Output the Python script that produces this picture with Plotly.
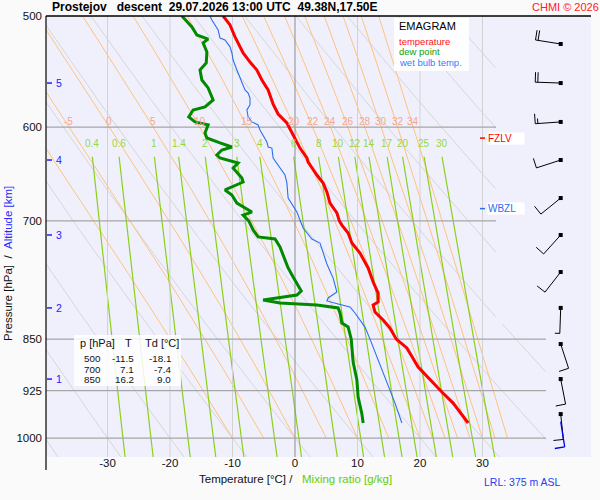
import numpy as np
import plotly.graph_objects as go

# sounding profiles (pressure hPa, temperature degC)
temp_p = [500, 507.4, 517.5, 522.6, 531.3, 539.3, 546.4, 555.4, 564.6, 577.8, 587.3, 596.0, 610.9, 621.1,
          631.3, 635.5, 649.2, 657.7, 667.5, 679.8, 691.0, 700, 704.8, 714.0, 725.9, 738.0, 756.2, 773.9,
          788.0, 799.7, 803.7, 813.0, 823.7, 834.6, 850, 862.4, 889.9, 909.0, 927.1, 944.1, 975.5]
temp_t = [-11.5, -10.4, -9.6, -9.1, -8.3, -7.2, -6.1, -5.3, -4.3, -3.5, -2.7, -1.3, 0.0, 0.8,
          1.9, 2.1, 3.5, 4.5, 5.1, 5.6, 6.7, 7.1, 7.5, 8.5, 9.1, 10.4, 11.7, 12.5,
          13.3, 13.3, 12.5, 12.8, 14.1, 15.2, 16.2, 17.9, 19.7, 21.6, 23.5, 25.3, 27.7]

dew_p = [500, 509.1, 515.8, 519.3, 522.6, 530.4, 540.1, 546.4, 555.4, 562.7, 573.9, 580.5, 583.4, 590.1,
         595.0, 597.9, 605.9, 610.9, 615.9, 620.0, 623.1, 628.2, 631.3, 634.4, 636.5, 641.8, 652.4, 656.7,
         662.1, 665.3, 670.8, 679.8, 689.9, 693.4, 700, 710.5, 718.7, 721.1, 730.7, 746.4, 756.2, 767.6,
         785.4, 790.6, 797.1, 801.0, 803.7, 807.6, 814.3, 827.8, 833.3, 850, 865.3, 882.6, 909.0, 934.8,
         960.9, 975.5]
dew_t = [-18.1, -16.5, -15.7, -13.9, -14.7, -14.1, -14.2, -15.2, -14.9, -13.9, -13.1, -14.4, -16.3, -17.0,
         -16.0, -13.9, -14.4, -14.1, -12.0, -10.1, -11.7, -12.5, -12.0, -10.4, -9.1, -9.9, -8.5, -8.3,
         -10.1, -11.2, -10.1, -9.3, -6.9, -8.3, -7.4, -6.7, -5.9, -3.2, -2.4, -1.6, -1.1, -0.3,
         1.0, 0.3, -5.1, -2.4, 3.5, 6.9, 7.2, 7.5, 8.5, 9.0, 9.1, 9.3, 9.9, 10.1,
         10.7, 10.9]

wb_p = [500, 503.3, 511.6, 518.4, 520.1, 522.6, 526.0, 531.3, 537.5, 546.4, 552.7, 564.6, 567.4, 572.0,
        578.6, 583.4, 590.1, 595.0, 597.9, 602.9, 614.9, 620.0, 621.1, 631.3, 649.2, 657.7, 674.2, 689.9,
        708.2, 721.1, 725.9, 751.3, 768.9, 786.7, 794.4, 798.4, 802.4, 806.3, 814.3, 833.3, 850, 879.7,
        927.1, 944.1, 975.5]
wb_t = [-13.6, -13.3, -12.3, -12.0, -11.2, -10.9, -10.4, -10.1, -9.9, -9.3, -8.8, -8.0, -7.5, -7.2,
        -7.2, -7.7, -7.5, -6.9, -5.9, -5.6, -4.5, -4.3, -3.7, -3.5, -1.6, -1.3, -1.1, 0.3,
        1.3, 2.7, 4.0, 5.1, 6.1, 6.7, 5.3, 5.1, 6.9, 8.8, 9.6, 11.2, 12.0, 13.3,
        15.2, 16.0, 17.1]

table_p = [500, 700, 850]
table_t = [-11.5, 7.1, 16.2]
table_td = [-18.1, -7.4, 9.0]

alt_km = [1, 2, 3, 4, 5]
alt_p = [907.6, 807.5, 716.4, 633.4, 558.2]

wind_p = [523.5, 558.2, 595.0, 633.4, 674.2, 716.4, 761.3, 807.5, 856.9, 907.6, 961.3]
wind_dir = [279, 272, 266, 252, 231, 222, 218, 182, 162, 169, 174]
wind_kt = [20, 20, 15, 10, 10, 10, 10, 5, 10, 10, 10]
sfc_p, sfc_dir, sfc_kt = 973.5, 171, 10

fzlv_p = 611
wbzl_p = 686
lrl_m = 375

# diagram background lines
theta_dry = list(range(-40, 100, 10))
theta_w = [-10, -5, 0, 5, 10, 15, 20, 22, 24, 26, 28, 30, 32, 34]
mix_ratio = [0.4, 0.6, 1, 1.4, 2, 3, 4, 6, 8, 10, 12, 14, 17, 20, 25, 30]
isotherms = [-30, -20, -10, 0, 10, 20, 30]
isobars = [600, 700, 850, 925, 1000]

FONT = "Liberation Sans, Arial, sans-serif"
X_MIN, X_MAX = -39.84, 47.36
P_TOP, P_BOT = 500, 1031.5
ML, MR, MT, MB = 46, 9, 16, 43
PW, PH = 600 - ML - MR, 500 - MT - MB
PX_DEG = PW / (X_MAX - X_MIN)
PX_DEC = PH / (np.log10(P_BOT) - np.log10(P_TOP))


def xp(px):
    return (px - ML) / PW


def yp(py):
    return (MT + PH - py) / PH


def px_t(px):
    return X_MIN + (px - ML) / PX_DEG


def es(tc):
    return 6.112 * np.exp(17.67 * tc / (tc + 243.5))


def mix_t(w, p):
    e = w * p / (622.0 + w)
    l = np.log(e / 6.112)
    return 243.5 * l / (17.67 - l)


def moist_curve(tw, p):
    Rd, cp, Lv, eps = 287.04, 1005.7, 2.501e6, 0.622

    def f(pp, tk):
        e = es(tk - 273.15)
        rs = eps * e / (pp - e)
        return (Rd * tk + Lv * rs) / (cp + Lv * Lv * rs * eps / (Rd * tk * tk)) / pp

    out = [tw + 273.15]
    for i in range(1, len(p)):
        h = p[i] - p[i - 1]
        p0, tk = p[i - 1], out[-1]
        k1 = f(p0, tk)
        k2 = f(p0 + h / 2, tk + h / 2 * k1)
        k3 = f(p0 + h / 2, tk + h / 2 * k2)
        k4 = f(p0 + h, tk + h * k3)
        out.append(tk + h * (k1 + 2 * k2 + 2 * k3 + k4) / 6)
    return np.array(out) - 273.15


fig = go.Figure()


def add_line(x, y, color, width=1.0):
    fig.add_trace(go.Scatter(x=x, y=y, mode="lines", line=dict(color=color, width=width),
                             hoverinfo="skip", showlegend=False))


# dry adiabats
p_dry = np.geomspace(P_TOP, P_BOT, 300)
for th in theta_dry:
    t = (th + 273.15) * (p_dry / 1000.0) ** 0.2857 - 273.15
    lim = np.where(p_dry < 828, 32.2, 40.2)
    t = np.where(t <= lim, t, np.nan)
    add_line(t, p_dry, "#d6d6d6", 1)

# pseudo adiabats
p_moist = np.linspace(1000, 500, 251)
moist_lab = []
for tw in theta_w:
    t = moist_curve(tw, p_moist)
    add_line(t, p_moist, "#ffc27e", 1)
    t600 = float(np.interp(600, p_moist[::-1], t[::-1]))
    if t600 > X_MIN + 2:
        moist_lab.append((tw, t600))

# mixing ratio lines
p_mix = np.geomspace(630, P_BOT, 80)
for w in mix_ratio:
    add_line(mix_t(w, p_mix), p_mix, "#8ad018", 1.2)

# isotherms and isobars
for t in isotherms:
    add_line([t, t], [P_TOP, P_BOT], "#8c8c8c" if t == 0 else "#d2d2d2", 1)
for p in isobars:
    add_line([X_MIN, px_t(496 if p < 800 else 546)], [p, p], "#a6a6a6", 1.2)

# profiles
add_line(wb_t, wb_p, "#2a6ef0", 1.1)
add_line(dew_t, dew_p, "#008a00", 3)
add_line(temp_t, temp_p, "#ff0000", 3)

# freezing / wet bulb zero levels
add_line([px_t(480), px_t(485)], [fzlv_p, fzlv_p], "#ff0000", 1.5)
add_line([px_t(480), px_t(485)], [wbzl_p, wbzl_p], "#2a6ef0", 1.5)

# altitude ticks
for km, p in zip(alt_km, alt_p):
    add_line([px_t(47), px_t(52)], [p, p], "#2020ff", 1.5)


# wind barbs
def barb(p0, wdir, kt):
    t0 = px_t(560.7)
    lp0 = np.log10(p0)
    a = np.radians(wdir)
    dx, dy = np.sin(a), -np.cos(a)
    fx, fy = -dy, dx

    def pt(sx, sy):
        return t0 + sx / PX_DEG, 10 ** (lp0 + sy / PX_DEC)

    xs, ys = [], []
    for sx, sy in [(0, 0), (25.5 * dx, 25.5 * dy)]:
        x, y = pt(sx, sy)
        xs.append(x)
        ys.append(y)
    xs.append(None)
    ys.append(None)
    feathers = [10] * (kt // 10) + ([5] if kt % 10 >= 5 else [])
    for i, ln in enumerate(feathers):
        s = 25.5 - i * 2.6
        for sx, sy in [(s * dx, s * dy), (s * dx + ln * fx, s * dy + ln * fy)]:
            x, y = pt(sx, sy)
            xs.append(x)
            ys.append(y)
        xs.append(None)
        ys.append(None)
    return xs, ys


bx, by = [], []
for p, d, k in zip(wind_p, wind_dir, wind_kt):
    x, y = barb(p, d, k)
    bx += x
    by += y
add_line(bx, by, "#000000", 1)
fig.add_trace(go.Scatter(x=[px_t(560.7)] * len(wind_p), y=wind_p, mode="markers",
                         marker=dict(symbol="square", size=4, color="#000000"),
                         hoverinfo="skip", showlegend=False))
sx, sy = barb(sfc_p, sfc_dir, sfc_kt)
add_line(sx, sy, "#0000ee", 1.3)

# annotations
ann = []


def text(x, y, s, size=11, color="#111111", xanchor="left", **kw):
    ann.append(dict(x=x, y=y, xref="paper", yref="paper", text=s, showarrow=False, xanchor=xanchor,
                    yanchor="middle", font=dict(family=FONT, size=size, color=color), **kw))


nb = "\u00a0"
text(xp(50), yp(7), "<b>Prostejov" + nb * 3 + "descent" + nb * 2 + "29.07.2026 13:00 UTC" + nb * 2
     + "49.38N,17.50E</b>", size=12, color="#000000")
text(xp(530), yp(7), "CHMI © 2026", size=11, color="#ff2020")

text(xp(397), yp(26), "EMAGRAM", size=11, color="#000000")
text(xp(397), yp(41.5), "temperature", size=9.5, color="#ff1010")
text(xp(397), yp(52), "dew point", size=9.5, color="#10a010")
text(xp(397), yp(62.5), "wet bulb temp.", size=9.5, color="#3080ff")

text(xp(78), yp(343), "p [hPa]", size=11)
text(xp(128), yp(343), "T", size=11, xanchor="center")
text(xp(143), yp(343), "Td [°C]", size=11)
for i, (p, t, td) in enumerate(zip(table_p, table_t, table_td)):
    y = yp(358.5 + i * 10.5)
    text(xp(103), y, str(p), size=9.8, xanchor="right")
    text(xp(136), y, f"{t:.1f}", size=9.8, xanchor="right")
    text(xp(173), y, f"{td:.1f}", size=9.8, xanchor="right")

text(xp(197), yp(479), "Temperature [°C]" + nb + "/" + nb * 3
     + "<span style='color:#66cc00'>Mixing ratio [g/kg]</span>", size=11.5)
ann.append(dict(x=xp(8), y=yp(264), xref="paper", yref="paper", showarrow=False, textangle=-90,
                text="Pressure [hPa]" + nb * 2 + "/" + nb * 2
                + "<span style='color:#2a2aff'>Altitude [km]</span>",
                xanchor="center", yanchor="middle", font=dict(family=FONT, size=11.5, color="#111111")))
text(xp(482), yp(482), f"LRL: {lrl_m} m ASL", size=10.5, color="#2840f0")

for km, p in zip(alt_km, alt_p):
    ann.append(dict(x=px_t(59), y=np.log10(p), xref="x", yref="y", text=str(km), showarrow=False,
                    font=dict(family=FONT, size=10.5, color="#2020ff")))
for lbl, p, c in [("FZLV", fzlv_p, "#ff0000"), ("WBZL", wbzl_p, "#2a6ef0")]:
    ann.append(dict(x=px_t(487), y=np.log10(p), xref="x", yref="y", text=lbl, showarrow=False,
                    xanchor="left", align="left", width=36, height=11, borderpad=0, bgcolor="#ffffff",
                    font=dict(family=FONT, size=10, color=c)))
for tw, t6 in moist_lab:
    ann.append(dict(x=t6, y=np.log10(600), xref="x", yref="y", text=str(tw), showarrow=False,
                    yshift=6, font=dict(family=FONT, size=10, color="#f4a58e")))
for w in mix_ratio:
    ann.append(dict(x=float(mix_t(w, 630.0)), y=np.log10(616), xref="x", yref="y", text=f"{w:g}",
                    showarrow=False, font=dict(family=FONT, size=10, color="#96d83c")))

shapes = [
    dict(type="rect", xref="paper", yref="paper", x0=xp(394), x1=xp(469), y0=yp(71), y1=yp(18),
         fillcolor="rgba(255,255,255,0.9)", line=dict(width=0), layer="above"),
    dict(type="rect", xref="paper", yref="paper", x0=xp(74), x1=xp(181), y0=yp(386), y1=yp(335),
         fillcolor="rgba(255,255,255,0.85)", line=dict(width=0), layer="above"),
    dict(type="line", xref="paper", yref="paper", x0=0, x1=0, y0=yp(470), y1=1,
         line=dict(color="#000000", width=1.2)),
    dict(type="line", xref="paper", yref="paper", x0=0, x1=1, y0=1, y1=1,
         line=dict(color="#000000", width=1.6)),
]

fig.update_layout(
    width=600, height=500, autosize=False,
    margin=dict(l=ML, r=MR, t=MT, b=MB, pad=0),
    paper_bgcolor="#fafafa", plot_bgcolor="#f0f0fc",
    font=dict(family=FONT, size=11, color="#111111"),
    showlegend=False, annotations=ann, shapes=shapes,
    xaxis=dict(range=[X_MIN, X_MAX], showgrid=False, zeroline=False, showline=False, ticks="",
               tickvals=isotherms[:], ticktext=[str(t) for t in isotherms], ticklabelstandoff=-3,
               tickfont=dict(family=FONT, size=11.5, color="#111111")),
    yaxis=dict(type="log", range=[np.log10(P_BOT), np.log10(P_TOP)], showgrid=False, zeroline=False,
               showline=False, ticks="", tickvals=[500] + isobars,
               ticktext=[str(p) for p in [500] + isobars], ticklabelstandoff=3,
               tickfont=dict(family=FONT, size=11.5, color="#111111")),
)

fig.write_html("out.html", config={"displayModeBar": False},
               post_script="document.body.style.margin='0px';")
